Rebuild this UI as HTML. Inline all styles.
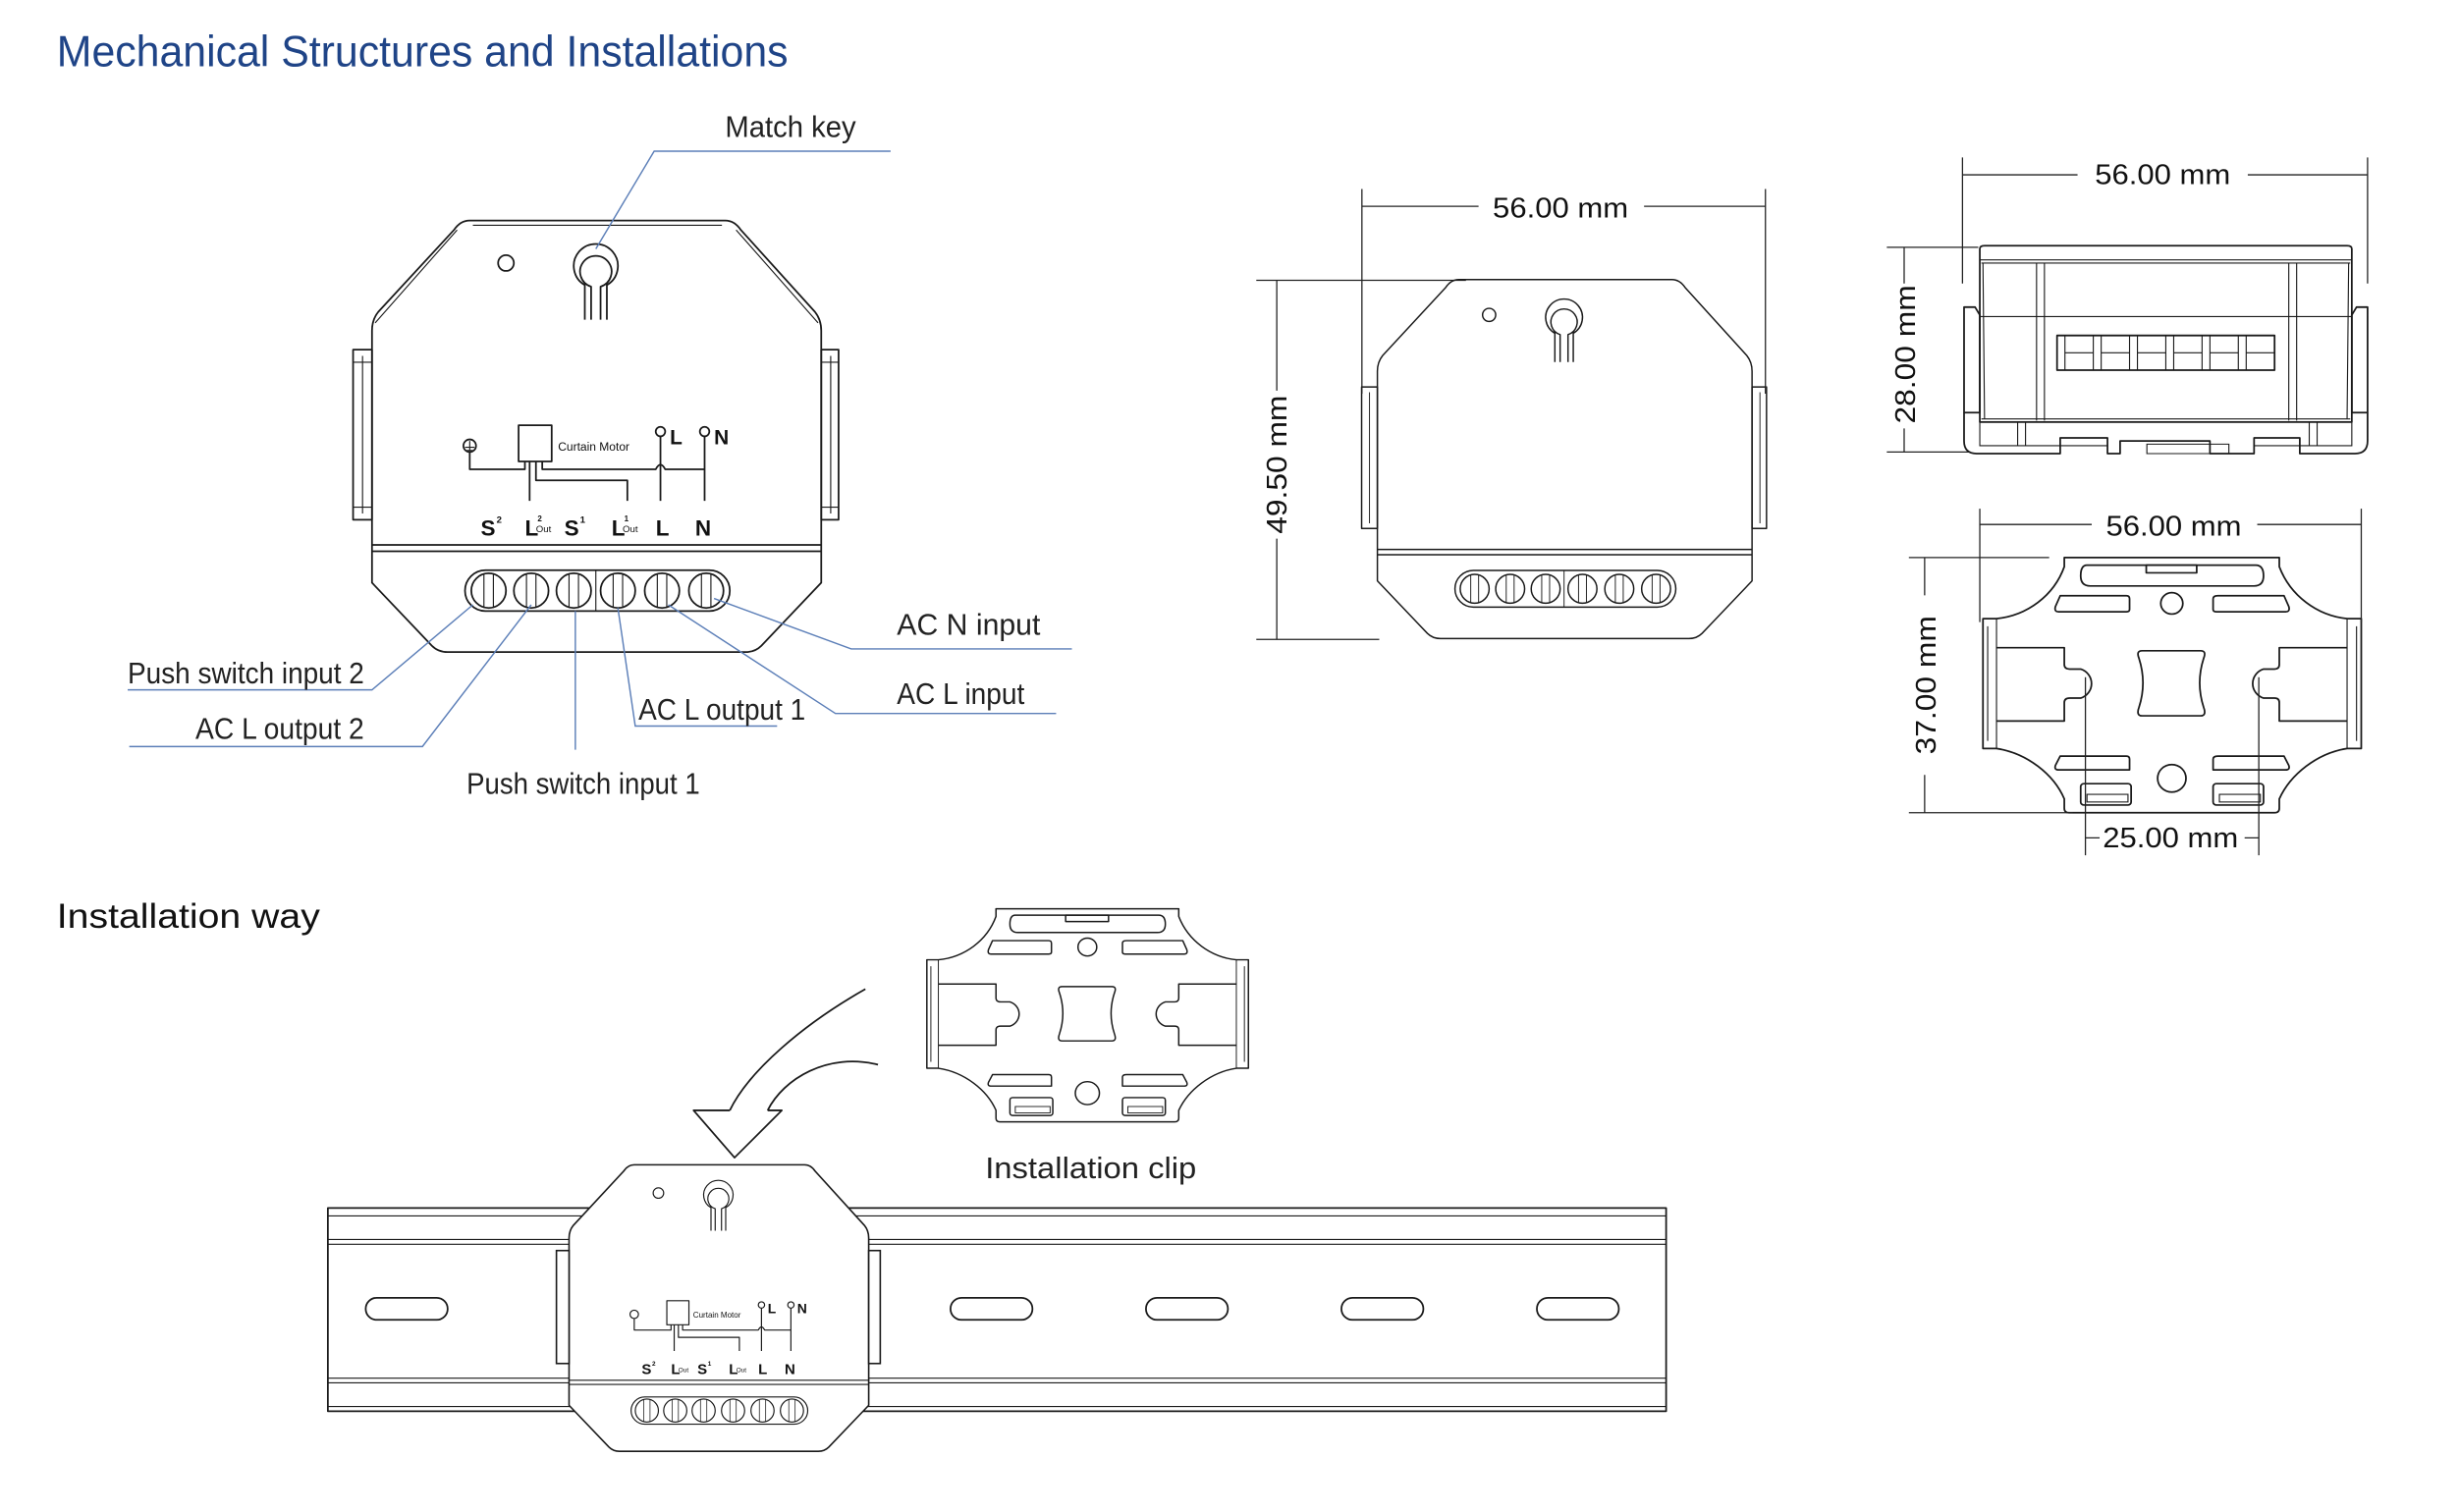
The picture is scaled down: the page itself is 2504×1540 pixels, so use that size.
<!DOCTYPE html>
<html><head><meta charset="utf-8"><style>
html,body{margin:0;padding:0;background:#fff;}
svg{display:block;}
.l{fill:none;stroke:#1a1a1a;stroke-width:1.1;stroke-linejoin:round;}
.t{fill:none;stroke:#1a1a1a;stroke-width:0.7;}
.b{fill:none;stroke:#5c7fb8;stroke-width:0.9;}
.d{fill:none;stroke:#222;stroke-width:0.8;}
.lab{font-family:"Liberation Sans Narrow","Liberation Sans",sans-serif;font-size:19px;fill:#222;}
.dim{font-family:"Liberation Sans",sans-serif;font-size:18px;fill:#111;}
</style></head><body>
<svg width="2504" height="1540" viewBox="0 0 1560 960" preserveAspectRatio="none" xmlns="http://www.w3.org/2000/svg">
<text x="36" y="42" font-family="Liberation Sans Narrow, Liberation Sans, sans-serif" font-size="28" fill="#1f4487" textLength="464" lengthAdjust="spacingAndGlyphs">Mechanical Structures and Installations</text>

<!-- MAIN DEVICE -->
<g id="dev">
<path class="l" d="M298,140 L460,140 Q466,140 470,146 L517,198 Q521,203 521,210 L521,370 L483,410 Q479,414 473,414 L284,414 Q278,414 274,410 L236,370 L236,210 Q236,203 240,198 L288,146 Q292,140 298,140 Z"/>
<path class="t" d="M300,143 L458,143 M238,205 L290,146 M519,205 L467,146"/>
<path class="l" d="M236,346 L521,346 M236,350 L521,350"/>
<rect class="l" x="224" y="222" width="12" height="108"/>
<path class="t" d="M230,226 L230,326 M224,230 L236,230 M224,322 L236,322"/>
<rect class="l" x="521" y="222" width="11" height="108"/>
<path class="t" d="M527,226 L527,326 M521,230 L532,230 M521,322 L532,322"/>
<circle class="l" cx="321" cy="167" r="5"/>
<path class="l" d="M371,203 L371,181 A14,14 0 1,1 385,181 L385,203 M375,203 L375,182 A10,10 0 1,1 381,182 L381,203"/>
<rect class="l" x="295" y="362" width="168" height="26" rx="13"/>
<path class="t" d="M378,362 L378,388"/>
<g class="l">
<circle cx="310" cy="375" r="11"/><circle cx="337" cy="375" r="11"/><circle cx="364" cy="375" r="11"/>
<circle cx="392" cy="375" r="11"/><circle cx="420" cy="375" r="11"/><circle cx="448" cy="375" r="11"/>
</g>
<path class="t" d="M307,364 L307,386 M313,364 L313,386 M334,364 L334,386 M340,364 L340,386 M361,364 L361,386 M367,364 L367,386 M389,364 L389,386 M395,364 L395,386 M417,364 L417,386 M423,364 L423,386 M445,364 L445,386 M451,364 L451,386"/>
<!-- circuit -->
<circle class="l" cx="298" cy="283" r="4"/>
<path class="t" d="M298,280 L298,286 M295,284 L301,284 M296,286 L300,286"/>
<rect class="l" x="329" y="270" width="21" height="23"/>
<text x="354" y="286" font-family="Liberation Sans,sans-serif" font-size="7.5" fill="#111">Curtain Motor</text>
<path class="l" d="M298,287 L298,298 L333,298 L333,293 M336,293 L336,318 M340,293 L340,305 L398,305 L398,318 M344,293 L344,298 L416,298 Q419,292 422,298 L447,298 M419,277 L419,318 M447,277 L447,318"/>
<circle class="l" cx="419" cy="274" r="3"/><circle class="l" cx="447" cy="274" r="3"/>
<g font-family="Liberation Sans,sans-serif" font-weight="bold" fill="#111">
<text x="425" y="282" font-size="13">L</text><text x="453" y="282" font-size="13">N</text>
<text x="305" y="340" font-size="14">S</text><text x="315" y="332" font-size="6">2</text>
<text x="333" y="340" font-size="14">L</text><text x="341" y="331" font-size="5">2</text><text x="340" y="338" font-size="6" font-weight="normal">Out</text>
<text x="358" y="340" font-size="14">S</text><text x="368" y="332" font-size="6">1</text>
<text x="388" y="340" font-size="14">L</text><text x="396" y="331" font-size="5">1</text><text x="395" y="338" font-size="6" font-weight="normal">Out</text>
<text x="416" y="340" font-size="14">L</text><text x="441" y="340" font-size="14">N</text>
</g>
</g>

<!-- leaders -->
<path class="b" d="M565,96 L415,96 L378,158"/>
<text class="lab" x="460" y="87" textLength="83" lengthAdjust="spacingAndGlyphs">Match key</text>
<path class="b" d="M81,438 L236,438 L300,384"/>
<text class="lab" x="81" y="434" textLength="150" lengthAdjust="spacingAndGlyphs">Push switch input 2</text>
<path class="b" d="M82,474 L268,474 L337,384"/>
<text class="lab" x="124" y="469" textLength="107" lengthAdjust="spacingAndGlyphs">AC L output 2</text>
<path class="b" d="M365,388 L365,476"/>
<text class="lab" x="296" y="504" textLength="148" lengthAdjust="spacingAndGlyphs">Push switch input 1</text>
<path class="b" d="M493,461 L403,461 L392,386"/>
<text class="lab" x="405" y="457" textLength="106" lengthAdjust="spacingAndGlyphs">AC L output 1</text>
<path class="b" d="M670,453 L530,453 L424,384"/>
<text class="lab" x="569" y="447" textLength="81" lengthAdjust="spacingAndGlyphs">AC L input</text>
<path class="b" d="M680,412 L540,412 L453,380"/>
<text class="lab" x="569" y="403" textLength="91" lengthAdjust="spacingAndGlyphs">AC N input</text>

<!-- FRONT DIM VIEW -->
<g transform="translate(677,61) scale(0.834,0.832)">
<path class="l" d="M298,140 L460,140 Q466,140 470,146 L517,198 Q521,203 521,210 L521,370 L483,410 Q479,414 473,414 L284,414 Q278,414 274,410 L236,370 L236,210 Q236,203 240,198 L288,146 Q292,140 298,140 Z"/>
<path class="l" d="M236,346 L521,346 M236,350 L521,350"/>
<rect class="l" x="224" y="222" width="12" height="108"/><path class="t" d="M230,226 L230,326"/>
<rect class="l" x="521" y="222" width="11" height="108"/><path class="t" d="M527,226 L527,326"/>
<circle class="l" cx="321" cy="167" r="5"/>
<path class="l" d="M371,203 L371,181 A14,14 0 1,1 385,181 L385,203 M375,203 L375,182 A10,10 0 1,1 381,182 L381,203"/>
<rect class="l" x="295" y="362" width="168" height="28" rx="14"/>
<path class="t" d="M378,362 L378,390"/>
<g class="l"><circle cx="310" cy="376" r="11"/><circle cx="337" cy="376" r="11"/><circle cx="364" cy="376" r="11"/><circle cx="392" cy="376" r="11"/><circle cx="420" cy="376" r="11"/><circle cx="448" cy="376" r="11"/></g>
<path class="t" d="M307,365 L307,387 M313,365 L313,387 M334,365 L334,387 M340,365 L340,387 M361,365 L361,387 M367,365 L367,387 M389,365 L389,387 M395,365 L395,387 M417,365 L417,387 M423,365 L423,387 M445,365 L445,387 M451,365 L451,387"/>
</g>
<path class="d" d="M864,120 L864,250 M1120,120 L1120,250 M864,131 L938,131 M1043,131 L1120,131"/>
<text class="dim" x="990" y="138" text-anchor="middle" textLength="86" lengthAdjust="spacingAndGlyphs">56.00 mm</text>
<path class="d" d="M797,178 L930,178 M797,406 L875,406 M810,178 L810,248 M810,342 L810,406"/>
<text class="dim" transform="translate(816,295) rotate(-90)" text-anchor="middle" textLength="88" lengthAdjust="spacingAndGlyphs">49.50 mm</text>

<!-- SIDE VIEW -->
<path class="d" d="M1245,100 L1245,180 M1502,100 L1502,180 M1245,111 L1318,111 M1426,111 L1502,111"/>
<text class="dim" x="1372" y="117" text-anchor="middle" textLength="86" lengthAdjust="spacingAndGlyphs">56.00 mm</text>
<path class="d" d="M1197,157 L1255,157 M1197,287 L1250,287 M1208,157 L1208,180 M1208,272 L1208,287"/>
<text class="dim" transform="translate(1215,225) rotate(-90)" text-anchor="middle" textLength="88" lengthAdjust="spacingAndGlyphs">28.00 mm</text>
<path class="l" d="M1256,158 Q1256,156 1259,156 L1489,156 Q1492,156 1492,158 L1492,268 L1256,268 Z"/>
<path class="t" d="M1256,165 L1492,165 M1257,167 L1491,167 M1256,201 L1492,201 M1258,167 L1259,266 M1490,167 L1489,266 M1292,167 L1292,267 M1297,167 L1297,267 M1452,167 L1452,267 M1457,167 L1457,267 M1257,266 L1491,266"/>
<rect class="l" x="1305" y="213" width="138" height="22"/>
<path class="t" d="M1328,213 L1328,235 M1351,213 L1351,235 M1374,213 L1374,235 M1397,213 L1397,235 M1420,213 L1420,235 M1310,213 L1310,235 M1333,213 L1333,235 M1356,213 L1356,235 M1379,213 L1379,235 M1402,213 L1402,235 M1425,213 L1425,235 M1310,224 L1328,224 M1333,224 L1351,224 M1356,224 L1374,224 M1379,224 L1397,224 M1402,224 L1420,224 M1425,224 L1443,224"/>
<path class="l" d="M1246,195 L1253,195 L1256,200 L1256,262 L1246,262 Z M1502,195 L1495,195 L1492,200 L1492,262 L1502,262 Z"/>
<path class="l" d="M1246,262 L1246,280 Q1246,288 1254,288 L1307,288 L1307,278 L1337,278 L1337,288 L1345,288 L1345,280 L1402,280 L1402,288 L1430,288 L1430,278 L1459,278 L1459,288 L1494,288 Q1502,288 1502,280 L1502,262"/>
<path class="t" d="M1256,268 L1256,283 L1337,283 M1492,268 L1492,283 L1430,283 M1362,282 L1362,288 L1414,288 L1414,282 Z M1280,268 L1280,283 M1285,268 L1285,283 M1465,268 L1465,283 M1470,268 L1470,283"/>

<!-- CLIP DIM VIEW -->
<g id="clip" transform="translate(1258,354) scale(1,0.97)">
<path class="l" d="M51.6,0 L188,0 L188,6 C195,25 212,38 231,40 L240,40 L240,125 L231,125 C212,128 195,142 188,158 L188,164 Q188,167 185,167 L54.6,167 Q51.6,167 51.6,164 L51.6,158 C45,142 28,128 8.6,125 L0,125 L0,40 L8.6,40 C28,38 45,25 51.6,6 Z"/>
<path class="t" d="M8.6,40 L8.6,125 M231,40 L231,125 M3,45 L3,120 M237,45 L237,120"/>
<path class="l" d="M66,5 L173,5 Q178,5 178,12 Q178,18.6 172,18.6 L68,18.6 Q62,18.6 62,12 Q62,5 66,5 Z"/>
<rect class="l" x="103.6" y="5" width="32" height="5"/>
<path class="l" d="M49,25 L91,25 Q93,25 93,27 L93,34 Q93,35.5 91,35.5 L48,35.5 Q45,35.5 46,32 Z M149,25 L191,25 L194,32 Q195,35.5 192,35.5 L148,35.5 Q146,35.5 146,34 L146,27 Q146,25 149,25 Z"/>
<circle class="l" cx="119.8" cy="30" r="7"/>
<path class="l" d="M8.6,59 L51.6,59 L51.6,70 Q51.6,73 55,73 L62,73 A10,10 0 0,1 62,92 L55,92 Q51.6,92 51.6,95 L51.6,107 L8.6,107 M231,59 L188,59 L188,70 Q188,73 185,73 L178,73 A10,10 0 0,0 178,92 L185,92 Q188,92 188,95 L188,107 L231,107"/>
<path class="l" d="M101,61 L138,61 Q142,61 140,66 Q135,82 140,98 Q142,103.6 138,103.6 L101,103.6 Q97,103.6 99,98 Q104,82 99,66 Q97,61 101,61 Z"/>
<path class="l" d="M49,130 L91,130 Q93,130 93,132 L93,139 L48,139 Q45,139 46,136 Z M149,130 L191,130 L194,136 Q195,139 192,139 L146,139 L146,132 Q146,130 149,130 Z"/>
<circle class="l" cx="119.8" cy="144.5" r="9"/>
<rect class="l" x="62" y="148" width="32" height="14" rx="2"/><rect class="t" x="66" y="155" width="26" height="5"/>
<rect class="l" x="146" y="148" width="32" height="14" rx="2"/><rect class="t" x="150" y="155" width="26" height="5"/>
</g>
<path class="d" d="M1256,323 L1256,395 M1498,323 L1498,395 M1256,333 L1327,333 M1432,333 L1498,333"/>
<text class="dim" x="1379" y="340" text-anchor="middle" textLength="86" lengthAdjust="spacingAndGlyphs">56.00 mm</text>
<path class="d" d="M1211,354 L1300,354 M1211,516 L1315,516 M1221,354 L1221,378 M1221,492 L1221,516"/>
<text class="dim" transform="translate(1228,435) rotate(-90)" text-anchor="middle" textLength="88" lengthAdjust="spacingAndGlyphs">37.00 mm</text>
<path class="d" d="M1323,430 L1323,543 M1433,430 L1433,543 M1323,532 L1332,532 M1424,532 L1433,532"/>
<text class="dim" x="1377" y="538" text-anchor="middle" textLength="86" lengthAdjust="spacingAndGlyphs">25.00 mm</text>

<!-- INSTALLATION WAY -->
<text x="36" y="589" font-family="Liberation Sans Narrow, Liberation Sans, sans-serif" font-size="22" fill="#111" textLength="167" lengthAdjust="spacingAndGlyphs">Installation way</text>
<g transform="translate(588,577) scale(0.85,0.81)">
<path class="l" d="M51.6,0 L188,0 L188,6 C195,25 212,38 231,40 L240,40 L240,125 L231,125 C212,128 195,142 188,158 L188,164 Q188,167 185,167 L54.6,167 Q51.6,167 51.6,164 L51.6,158 C45,142 28,128 8.6,125 L0,125 L0,40 L8.6,40 C28,38 45,25 51.6,6 Z"/>
<path class="t" d="M8.6,40 L8.6,125 M231,40 L231,125 M3,45 L3,120 M237,45 L237,120"/>
<path class="l" d="M66,5 L173,5 Q178,5 178,12 Q178,18.6 172,18.6 L68,18.6 Q62,18.6 62,12 Q62,5 66,5 Z"/>
<rect class="l" x="103.6" y="5" width="32" height="5"/>
<path class="l" d="M49,25 L91,25 Q93,25 93,27 L93,34 Q93,35.5 91,35.5 L48,35.5 Q45,35.5 46,32 Z M149,25 L191,25 L194,32 Q195,35.5 192,35.5 L148,35.5 Q146,35.5 146,34 L146,27 Q146,25 149,25 Z"/>
<circle class="l" cx="119.8" cy="30" r="7"/>
<path class="l" d="M8.6,59 L51.6,59 L51.6,70 Q51.6,73 55,73 L62,73 A10,10 0 0,1 62,92 L55,92 Q51.6,92 51.6,95 L51.6,107 L8.6,107 M231,59 L188,59 L188,70 Q188,73 185,73 L178,73 A10,10 0 0,0 178,92 L185,92 Q188,92 188,95 L188,107 L231,107"/>
<path class="l" d="M101,61 L138,61 Q142,61 140,66 Q135,82 140,98 Q142,103.6 138,103.6 L101,103.6 Q97,103.6 99,98 Q104,82 99,66 Q97,61 101,61 Z"/>
<path class="l" d="M49,130 L91,130 Q93,130 93,132 L93,139 L48,139 Q45,139 46,136 Z M149,130 L191,130 L194,136 Q195,139 192,139 L146,139 L146,132 Q146,130 149,130 Z"/>
<circle class="l" cx="119.8" cy="144.5" r="9"/>
<rect class="l" x="62" y="148" width="32" height="14" rx="2"/><rect class="t" x="66" y="155" width="26" height="5"/>
<rect class="l" x="146" y="148" width="32" height="14" rx="2"/><rect class="t" x="150" y="155" width="26" height="5"/>
</g>
<text class="lab" x="625" y="748" font-size="21" textLength="134" lengthAdjust="spacingAndGlyphs">Installation clip</text>
<!-- arrow -->
<path class="l" d="M549,628 C510,650 475,680 463,705 M557,676 C525,668 497,685 487,705 M463,705 L440,705 L466,735 L496,705 L487,705"/>

<!-- DIN rail -->
<g class="l">
<path d="M208,767 L1057,767 L1057,896 L208,896 Z"/>
<path class="t" d="M208,772 L1057,772 M208,787 L1057,787 M208,790 L1057,790 M208,875 L1057,875 M208,878 L1057,878 M208,893 L1057,893"/>
<rect x="232" y="824" width="52" height="14" rx="7"/>
<rect x="603" y="824" width="52" height="14" rx="7"/>
<rect x="727" y="824" width="52" height="14" rx="7"/>
<rect x="851" y="824" width="52" height="14" rx="7"/>
<rect x="975" y="824" width="52" height="14" rx="7"/>
</g>
<!-- small device -->
<g transform="translate(203.6,646.6) scale(0.667,0.664)">
<path d="M298,140 L460,140 Q466,140 470,146 L517,198 Q521,203 521,210 L521,370 L483,410 Q479,414 473,414 L284,414 Q278,414 274,410 L236,370 L236,210 Q236,203 240,198 L288,146 Q292,140 298,140 Z" fill="#fff" stroke="#1a1a1a" stroke-width="1.5"/>
<path class="l" d="M236,346 L521,346 M236,350 L521,350"/>
<rect x="224" y="222" width="12" height="108" fill="#fff" stroke="#1a1a1a" stroke-width="1.5"/>
<rect x="521" y="222" width="11" height="108" fill="#fff" stroke="#1a1a1a" stroke-width="1.5"/>
<circle class="l" cx="321" cy="167" r="5"/>
<path class="l" d="M371,203 L371,181 A14,14 0 1,1 385,181 L385,203 M375,203 L375,182 A10,10 0 1,1 381,182 L381,203"/>
<rect class="l" x="295" y="362" width="168" height="26" rx="13"/>
<g class="l"><circle cx="310" cy="375" r="11"/><circle cx="337" cy="375" r="11"/><circle cx="364" cy="375" r="11"/><circle cx="392" cy="375" r="11"/><circle cx="420" cy="375" r="11"/><circle cx="448" cy="375" r="11"/></g>
<path class="t" d="M307,364 L307,386 M313,364 L313,386 M334,364 L334,386 M340,364 L340,386 M361,364 L361,386 M367,364 L367,386 M389,364 L389,386 M395,364 L395,386 M417,364 L417,386 M423,364 L423,386 M445,364 L445,386 M451,364 L451,386"/>
<circle class="l" cx="298" cy="283" r="4"/>
<rect class="l" x="329" y="270" width="21" height="23"/>
<text x="354" y="286" font-family="Liberation Sans,sans-serif" font-size="7.5" fill="#111">Curtain Motor</text>
<path class="l" d="M298,287 L298,298 L333,298 L333,293 M336,293 L336,318 M340,293 L340,305 L398,305 L398,318 M344,293 L344,298 L416,298 Q419,292 422,298 L447,298 M419,277 L419,318 M447,277 L447,318"/>
<circle class="l" cx="419" cy="274" r="3"/><circle class="l" cx="447" cy="274" r="3"/>
<g font-family="Liberation Sans,sans-serif" font-weight="bold" fill="#111">
<text x="425" y="282" font-size="13">L</text><text x="453" y="282" font-size="13">N</text>
<text x="305" y="340" font-size="14">S</text><text x="315" y="332" font-size="6">2</text>
<text x="333" y="340" font-size="14">L</text><text x="340" y="338" font-size="6" font-weight="normal">Out</text>
<text x="358" y="340" font-size="14">S</text><text x="368" y="332" font-size="6">1</text>
<text x="388" y="340" font-size="14">L</text><text x="395" y="338" font-size="6" font-weight="normal">Out</text>
<text x="416" y="340" font-size="14">L</text><text x="441" y="340" font-size="14">N</text>
</g>
</g>
</svg>
</body></html>
